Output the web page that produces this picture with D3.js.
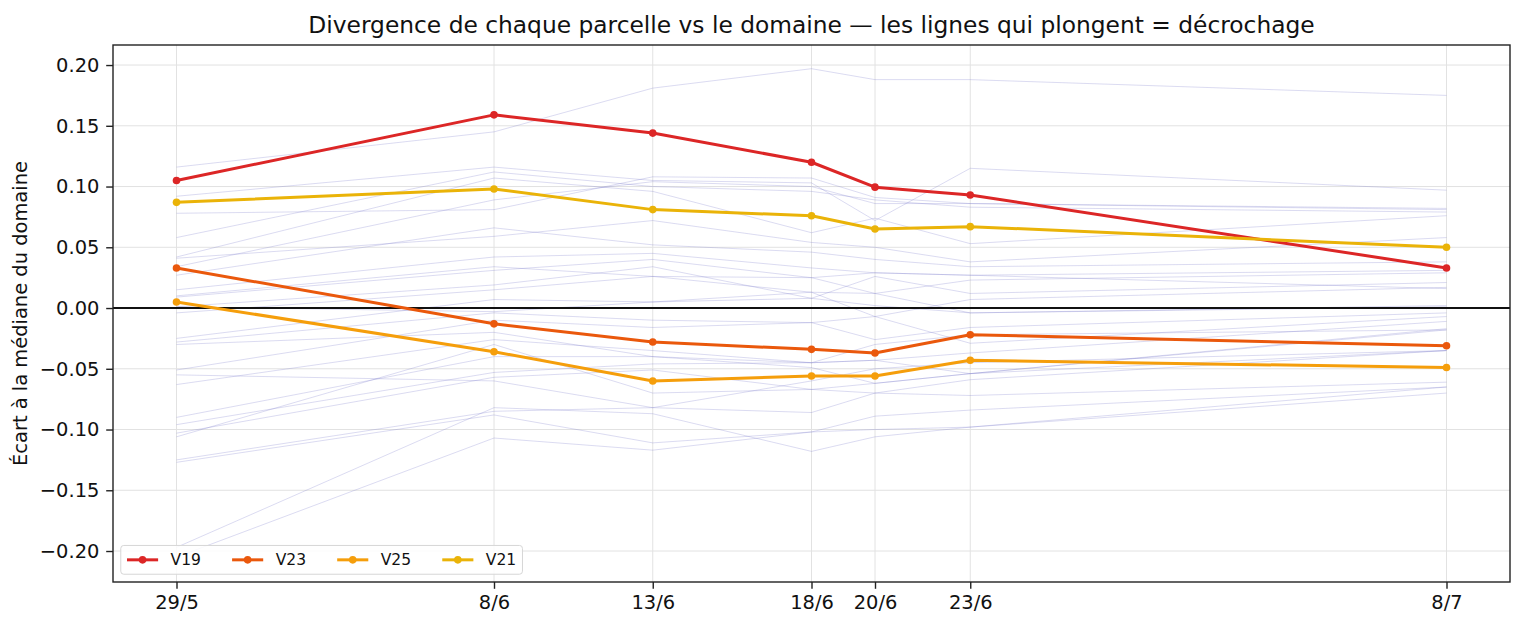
<!DOCTYPE html>
<html>
<head>
<meta charset="utf-8">
<script src="https://cdn.jsdelivr.net/npm/d3@7"></script>
<style>
  body { margin: 0; background: #fff; }
  text { font-family: "DejaVu Sans", sans-serif; }
</style>
</head>
<body>
<div id="chart"></div>
<script>
// dates of the surveys
let dates = ["2025-05-29", "2025-06-08", "2025-06-13", "2025-06-18", "2025-06-20", "2025-06-23", "2025-07-08"];

// highlighted parcels
let highlight_names = ["V19", "V23", "V25", "V21"];
let highlight_colors = ["#dc2626", "#ea580c", "#f59e0b", "#eab308"];
let v19 = [0.105, 0.159, 0.144, 0.120, 0.0995, 0.093, 0.033];
let v23 = [0.033, -0.013, -0.028, -0.034, -0.037, -0.022, -0.031];
let v25 = [0.005, -0.036, -0.060, -0.056, -0.056, -0.043, -0.049];
let v21 = [0.087, 0.098, 0.081, 0.076, 0.065, 0.067, 0.050];

// all other parcels (thin background lines)
let others = [
  [0.116, 0.145, 0.181, 0.197, 0.188, 0.188, 0.175],
  [0.092, 0.116, 0.105, 0.103, 0.072, 0.115, 0.097],
  [0.078, 0.081, 0.108, 0.107, 0.091, 0.086, 0.082],
  [0.058, 0.112, 0.100, 0.096, 0.089, 0.083, 0.079],
  [0.042, 0.107, 0.096, 0.062, 0.074, 0.053, 0.076],
  [0.041, 0.059, 0.072, 0.054, 0.050, 0.038, 0.058],
  [0.027, 0.066, 0.052, 0.046, 0.040, 0.034, 0.038],
  [0.015, 0.042, 0.045, 0.033, 0.029, 0.027, 0.031],
  [0.009, 0.031, 0.040, 0.025, 0.012, 0.023, 0.029],
  [0.001, 0.019, 0.034, 0.008, 0.026, 0.012, 0.021],
  [-0.004, 0.015, 0.026, 0.013, -0.007, 0.007, 0.017],
  [-0.025, 0.007, 0.005, 0.013, 0.012, -0.004, 0.001],
  [-0.028, -0.004, -0.010, -0.012, -0.026, -0.016, -0.004],
  [-0.051, -0.010, -0.016, -0.012, -0.007, -0.029, -0.007],
  [-0.063, -0.026, -0.035, -0.045, -0.043, -0.037, -0.011],
  [-0.090, -0.040, -0.040, -0.049, -0.062, -0.054, -0.017],
  [-0.096, -0.053, -0.046, -0.045, -0.043, -0.054, -0.018],
  [-0.103, -0.057, -0.051, -0.067, -0.070, -0.059, -0.035],
  [-0.106, -0.030, -0.070, -0.067, -0.062, -0.054, -0.035],
  [-0.125, -0.085, -0.082, -0.086, -0.070, -0.072, -0.061],
  [-0.127, -0.088, -0.111, -0.102, -0.089, -0.084, -0.065],
  [-0.197, -0.082, -0.087, -0.118, -0.106, -0.098, -0.070],
  [-0.205, -0.107, -0.117, -0.102, -0.100, -0.098, -0.065],
  [0.034, 0.089, 0.104, 0.100, 0.086, 0.086, 0.081],
  [0.001, -0.003, 0.005, 0.008, 0.002, -0.004, 0.002],
  [-0.030, -0.020, -0.040, -0.045, -0.030, -0.022, -0.018],
  [0.010, 0.034, 0.026, 0.025, 0.029, 0.027, 0.016],
  [-0.055, -0.060, -0.082, -0.060, -0.050, -0.045, -0.035]
];

let y_ticks = [-0.20, -0.15, -0.10, -0.05, 0.00, 0.05, 0.10, 0.15, 0.20];

let width = 1525, height = 630;
let margin = {left: 113, right: 15, top: 45, bottom: 48};
let pt = 140 / 72; // px per point

let parse = d3.timeParse("%Y-%m-%d");
let dts = dates.map(parse);

let svg = d3.select("#chart").append("svg")
  .attr("width", width)
  .attr("height", height);

let x = d3.scaleTime()
  .domain([d3.timeDay.offset(dts[0], -2), d3.timeDay.offset(dts[dts.length - 1], 2)])
  .range([margin.left, width - margin.right]);

let y = d3.scaleLinear()
  .domain([-0.2255, 0.2165])
  .range([height - margin.bottom, margin.top]);

// grid
let grid = svg.append("g");
grid.selectAll(".hg").data(y_ticks).join("line")
  .attr("x1", margin.left).attr("x2", width - margin.right)
  .attr("y1", d => y(d)).attr("y2", d => y(d))
  .attr("stroke", "#e2e2e2").attr("stroke-width", 1);
grid.selectAll(".vg").data(dts).join("line")
  .attr("x1", d => x(d)).attr("x2", d => x(d))
  .attr("y1", margin.top).attr("y2", height - margin.bottom)
  .attr("stroke", "#e2e2e2").attr("stroke-width", 1);

let line = d3.line()
  .x((d, i) => x(dts[i]))
  .y(d => y(d));

// background parcels
svg.append("g").selectAll("path")
  .data(others)
  .join("path")
  .attr("d", line)
  .attr("fill", "none")
  .attr("stroke", "#7a7acc")
  .attr("stroke-opacity", 0.3)
  .attr("stroke-width", 0.9);

// zero line
svg.append("line")
  .attr("x1", margin.left).attr("x2", width - margin.right)
  .attr("y1", y(0)).attr("y2", y(0))
  .attr("stroke", "#111").attr("stroke-width", 2);

// highlighted parcels
let hl = [v19, v23, v25, v21].map((vals, i) => ({name: highlight_names[i], color: highlight_colors[i], vals: vals}));

let hg = svg.append("g").selectAll("g").data(hl).join("g");
hg.append("path")
  .attr("d", d => line(d.vals))
  .attr("fill", "none")
  .attr("stroke", d => d.color)
  .attr("stroke-width", 3)
  .attr("stroke-linejoin", "round");
hg.selectAll("circle")
  .data(d => d.vals.map((v, i) => ({v: v, i: i, color: d.color})))
  .join("circle")
  .attr("cx", d => x(dts[d.i]))
  .attr("cy", d => y(d.v))
  .attr("r", 3.8)
  .attr("fill", d => d.color);

// axes
let tick_font = 10 * pt;
let xAxis = d3.axisBottom(x).tickValues(dts).tickFormat(d3.timeFormat("%-d/%-m")).tickSizeOuter(0).tickSize(3.5 * pt).tickPadding(3.5 * pt);
let yAxis = d3.axisLeft(y).tickValues(y_ticks).tickFormat(d3.format(".2f")).tickSizeOuter(0).tickSize(3.5 * pt).tickPadding(3.5 * pt);

let gx = svg.append("g").attr("transform", `translate(0,${height - margin.bottom})`).call(xAxis);
let gy = svg.append("g").attr("transform", `translate(${margin.left},0)`).call(yAxis);
[gx, gy].forEach(g => {
  g.select(".domain").remove();
  g.selectAll("text").style("font-size", tick_font + "px").attr("fill", "#111");
  g.selectAll("line").attr("stroke", "#222").attr("stroke-width", 1.4);
});

// frame
svg.append("rect")
  .attr("x", margin.left).attr("y", margin.top)
  .attr("width", width - margin.left - margin.right)
  .attr("height", height - margin.top - margin.bottom)
  .attr("fill", "none").attr("stroke", "#222").attr("stroke-width", 1.4);

// title
svg.append("text")
  .attr("x", (margin.left + width - margin.right) / 2)
  .attr("y", margin.top - 6 * pt)
  .attr("text-anchor", "middle")
  .style("font-size", (12 * pt) + "px")
  .attr("fill", "#111")
  .text("Divergence de chaque parcelle vs le domaine — les lignes qui plongent = décrochage");

// y label, placed left of the widest tick label
let tick_w = d3.max(gy.selectAll("text").nodes(), n => n.getComputedTextLength());
let label_x = margin.left - 7 * pt - tick_w - 4 * pt - 0.24 * tick_font;
svg.append("text")
  .attr("transform", `translate(${label_x},${(margin.top + height - margin.bottom) / 2}) rotate(-90)`)
  .attr("text-anchor", "middle")
  .style("font-size", tick_font + "px")
  .attr("fill", "#111")
  .text("Écart à la médiane du domaine");

// legend (fontsize 8pt, matplotlib-like spacing)
let lf = 8 * pt;
let lg = svg.append("g");
let box = lg.append("rect")
  .attr("rx", 3)
  .attr("fill", "#fff").attr("fill-opacity", 0.85)
  .attr("stroke", "#d6d6d6");
let cx = margin.left + 0.5 * lf + 0.4 * lf;
let box_h = 1.85 * lf;
let box_y = height - margin.bottom - 0.5 * lf - box_h;
let cy = box_y + box_h / 2;
hl.forEach(function(d, i) {
  lg.append("line")
    .attr("x1", cx).attr("x2", cx + 2 * lf).attr("y1", cy).attr("y2", cy)
    .attr("stroke", d.color).attr("stroke-width", 3);
  lg.append("circle").attr("cx", cx + lf).attr("cy", cy).attr("r", 3.8).attr("fill", d.color);
  let t = lg.append("text")
    .attr("x", cx + 2.8 * lf).attr("y", cy + 0.36 * lf)
    .style("font-size", lf + "px")
    .attr("fill", "#111")
    .text(d.name);
  cx = cx + 2.8 * lf + t.node().getComputedTextLength() + 2 * lf;
});
box.attr("x", margin.left + 0.5 * lf)
  .attr("y", box_y)
  .attr("width", cx - 2 * lf + 0.4 * lf - (margin.left + 0.5 * lf))
  .attr("height", box_h);
</script>
</body>
</html>
